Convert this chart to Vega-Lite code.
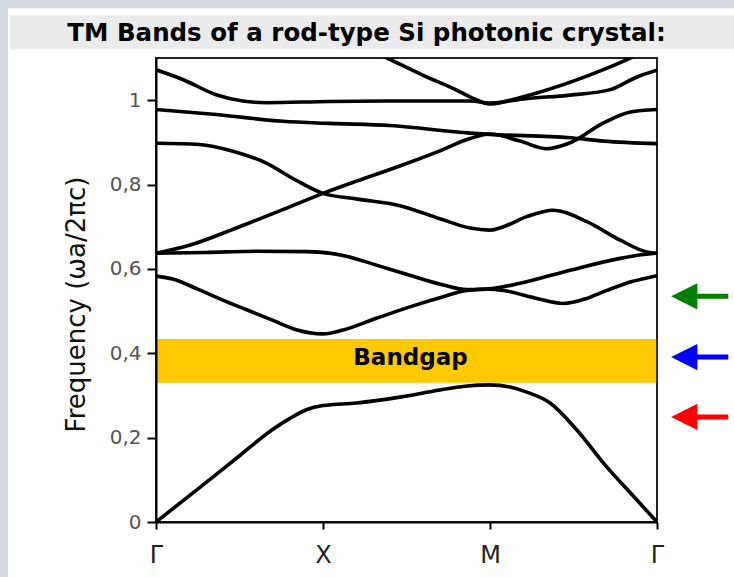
{
  "$schema": "https://vega.github.io/schema/vega-lite/v6.json",
  "width": 501,
  "height": 464,
  "autosize": {"type": "none"},
  "padding": {"left": 156, "top": 58, "right": 77, "bottom": 55},
  "background": "white",
  "config": {
    "font": "DejaVu Sans",
    "view": {"stroke": "#222", "strokeWidth": 2}
  },
  "datasets": {
    "bands": [
      {"band": "1", "k": 0.0, "f": 0.0}, {"band": "1", "k": 0.25, "f": 0.078}, {"band": "1", "k": 0.5, "f": 0.157}, {"band": "1", "k": 0.7, "f": 0.22}, {"band": "1", "k": 0.8, "f": 0.245}, {"band": "1", "k": 0.9, "f": 0.266}, {"band": "1", "k": 1.0, "f": 0.276}, {"band": "1", "k": 1.2, "f": 0.282}, {"band": "1", "k": 1.46, "f": 0.296}, {"band": "1", "k": 1.7, "f": 0.313}, {"band": "1", "k": 1.85, "f": 0.322}, {"band": "1", "k": 2.0, "f": 0.325}, {"band": "1", "k": 2.12, "f": 0.32}, {"band": "1", "k": 2.22, "f": 0.308}, {"band": "1", "k": 2.36, "f": 0.282}, {"band": "1", "k": 2.52, "f": 0.218}, {"band": "1", "k": 2.7, "f": 0.13}, {"band": "1", "k": 2.85, "f": 0.065}, {"band": "1", "k": 3.0, "f": 0.0},
      {"band": "2", "k": 0.0, "f": 0.583}, {"band": "2", "k": 0.1, "f": 0.576}, {"band": "2", "k": 0.25, "f": 0.552}, {"band": "2", "k": 0.4, "f": 0.526}, {"band": "2", "k": 0.55, "f": 0.502}, {"band": "2", "k": 0.7, "f": 0.478}, {"band": "2", "k": 0.84, "f": 0.456}, {"band": "2", "k": 1.0, "f": 0.446}, {"band": "2", "k": 1.12, "f": 0.455}, {"band": "2", "k": 1.32, "f": 0.483}, {"band": "2", "k": 1.52, "f": 0.51}, {"band": "2", "k": 1.72, "f": 0.534}, {"band": "2", "k": 1.86, "f": 0.549}, {"band": "2", "k": 2.0, "f": 0.552}, {"band": "2", "k": 2.08, "f": 0.549}, {"band": "2", "k": 2.28, "f": 0.53}, {"band": "2", "k": 2.44, "f": 0.518}, {"band": "2", "k": 2.58, "f": 0.53}, {"band": "2", "k": 2.7, "f": 0.549}, {"band": "2", "k": 2.85, "f": 0.57}, {"band": "2", "k": 3.0, "f": 0.584},
      {"band": "3", "k": 0.0, "f": 0.637}, {"band": "3", "k": 0.3, "f": 0.639}, {"band": "3", "k": 0.6, "f": 0.642}, {"band": "3", "k": 0.9, "f": 0.641}, {"band": "3", "k": 1.12, "f": 0.632}, {"band": "3", "k": 1.32, "f": 0.609}, {"band": "3", "k": 1.52, "f": 0.585}, {"band": "3", "k": 1.72, "f": 0.562}, {"band": "3", "k": 1.86, "f": 0.551}, {"band": "3", "k": 2.0, "f": 0.553}, {"band": "3", "k": 2.18, "f": 0.566}, {"band": "3", "k": 2.48, "f": 0.597}, {"band": "3", "k": 2.78, "f": 0.625}, {"band": "3", "k": 2.92, "f": 0.634}, {"band": "3", "k": 3.0, "f": 0.637},
      {"band": "4", "k": 0.0, "f": 0.637}, {"band": "4", "k": 0.2, "f": 0.656}, {"band": "4", "k": 0.5, "f": 0.7}, {"band": "4", "k": 0.8, "f": 0.747}, {"band": "4", "k": 1.0, "f": 0.779}, {"band": "4", "k": 1.2, "f": 0.808}, {"band": "4", "k": 1.46, "f": 0.844}, {"band": "4", "k": 1.7, "f": 0.88}, {"band": "4", "k": 1.88, "f": 0.909}, {"band": "4", "k": 2.0, "f": 0.92}, {"band": "4", "k": 2.18, "f": 0.903}, {"band": "4", "k": 2.34, "f": 0.885}, {"band": "4", "k": 2.48, "f": 0.899}, {"band": "4", "k": 2.68, "f": 0.946}, {"band": "4", "k": 2.84, "f": 0.972}, {"band": "4", "k": 3.0, "f": 0.978},
      {"band": "5", "k": 0.0, "f": 0.898}, {"band": "5", "k": 0.26, "f": 0.895}, {"band": "5", "k": 0.46, "f": 0.879}, {"band": "5", "k": 0.66, "f": 0.851}, {"band": "5", "k": 0.83, "f": 0.812}, {"band": "5", "k": 1.0, "f": 0.779}, {"band": "5", "k": 1.2, "f": 0.766}, {"band": "5", "k": 1.46, "f": 0.75}, {"band": "5", "k": 1.7, "f": 0.719}, {"band": "5", "k": 1.88, "f": 0.697}, {"band": "5", "k": 2.0, "f": 0.692}, {"band": "5", "k": 2.08, "f": 0.7}, {"band": "5", "k": 2.22, "f": 0.724}, {"band": "5", "k": 2.38, "f": 0.739}, {"band": "5", "k": 2.58, "f": 0.712}, {"band": "5", "k": 2.78, "f": 0.668}, {"band": "5", "k": 2.94, "f": 0.64}, {"band": "5", "k": 3.0, "f": 0.637},
      {"band": "6", "k": 0.0, "f": 0.978}, {"band": "6", "k": 0.36, "f": 0.966}, {"band": "6", "k": 0.76, "f": 0.95}, {"band": "6", "k": 1.04, "f": 0.945}, {"band": "6", "k": 1.4, "f": 0.94}, {"band": "6", "k": 1.88, "f": 0.922}, {"band": "6", "k": 2.0, "f": 0.919}, {"band": "6", "k": 2.48, "f": 0.911}, {"band": "6", "k": 2.68, "f": 0.903}, {"band": "6", "k": 3.0, "f": 0.897},
      {"band": "7", "k": 0.0, "f": 1.072}, {"band": "7", "k": 0.16, "f": 1.049}, {"band": "7", "k": 0.36, "f": 1.013}, {"band": "7", "k": 0.52, "f": 0.998}, {"band": "7", "k": 0.66, "f": 0.994}, {"band": "7", "k": 1.04, "f": 0.997}, {"band": "7", "k": 1.5, "f": 0.998}, {"band": "7", "k": 1.88, "f": 0.998}, {"band": "7", "k": 2.0, "f": 0.993}, {"band": "7", "k": 2.2, "f": 1.003}, {"band": "7", "k": 2.48, "f": 1.012}, {"band": "7", "k": 2.72, "f": 1.025}, {"band": "7", "k": 2.88, "f": 1.055}, {"band": "7", "k": 3.0, "f": 1.071},
      {"band": "8", "k": 1.3, "f": 1.116}, {"band": "8", "k": 1.4, "f": 1.097}, {"band": "8", "k": 1.6, "f": 1.059}, {"band": "8", "k": 1.8, "f": 1.024}, {"band": "8", "k": 1.88, "f": 1.008}, {"band": "8", "k": 2.0, "f": 0.991}, {"band": "8", "k": 2.12, "f": 1.0}, {"band": "8", "k": 2.28, "f": 1.017}, {"band": "8", "k": 2.58, "f": 1.057}, {"band": "8", "k": 2.82, "f": 1.096}, {"band": "8", "k": 2.92, "f": 1.115}
    ],
    "gap": [{"k0": 0, "k1": 2.995, "lo": 0.33, "hi": 0.434, "kmid": 1.5, "fmid": 0.382, "label": "Bandgap"}],
    "arrows": [
      {"f": 0.535, "c": "green"},
      {"f": 0.391, "c": "blue"},
      {"f": 0.249, "c": "red"}
    ],
    "frame": [
      {"part": "top strip", "a": -1.0, "b": 3.6, "lo": 1.218, "hi": 1.3, "fill": "strip"},
      {"part": "left strip", "a": -1.0, "b": -0.886, "lo": -0.2, "hi": 1.3, "fill": "strip"},
      {"part": "title band", "a": -0.874, "b": 3.6, "lo": 1.1209, "hi": 1.2014, "fill": "band"}
    ]
  },
  "layer": [
    {
      "data": {"name": "frame"},
      "mark": {"type": "rect"},
      "encoding": {
        "x": {"field": "a", "type": "quantitative", "scale": {"domain": [0, 3], "nice": false, "zero": false}},
        "x2": {"field": "b"},
        "y": {"field": "lo", "type": "quantitative", "scale": {"domain": [0, 1.1], "nice": false, "zero": false}},
        "y2": {"field": "hi"},
        "fill": {"field": "fill", "type": "nominal", "scale": {"domain": ["strip", "band"], "range": ["#d5d9e1", "#ebebeb"]}, "legend": null}
      }
    },
    {
      "data": {"values": [{"title": "TM Bands of a rod-type Si photonic crystal:"}]},
      "mark": {"type": "text", "font": "DejaVu Sans", "fontSize": 24.5, "fontWeight": "bold", "color": "#000", "align": "center", "baseline": "alphabetic"},
      "encoding": {
        "x": {"datum": 1.2605, "type": "quantitative"},
        "y": {"datum": 1.1398, "type": "quantitative"},
        "text": {"field": "title"}
      }
    },
    {
      "data": {"name": "gap"},
      "mark": {"type": "rect", "fill": "#ffc900"},
      "encoding": {
        "x": {"field": "k0", "type": "quantitative"},
        "x2": {"field": "k1"},
        "y": {"field": "lo", "type": "quantitative"},
        "y2": {"field": "hi"}
      }
    },
    {
      "data": {"name": "gap"},
      "mark": {"type": "text", "font": "DejaVu Sans", "fontSize": 23, "fontWeight": "bold", "color": "#000", "align": "center", "baseline": "middle", "dx": 4, "dy": -3},
      "encoding": {
        "x": {"field": "kmid", "type": "quantitative"},
        "y": {"field": "fmid", "type": "quantitative"},
        "text": {"field": "label"}
      }
    },
    {
      "data": {"name": "bands"},
      "mark": {"type": "line", "interpolate": "monotone", "color": "#000", "strokeWidth": 3.6, "clip": true},
      "encoding": {
        "x": {
          "field": "k", "type": "quantitative",
          "scale": {"domain": [0, 3], "nice": false, "zero": false},
          "axis": {
            "values": [0, 1, 2, 3],
            "labelExpr": "['Γ','X','M','Γ'][datum.value]",
            "title": null, "grid": false, "zindex": 1,
            "domainColor": "#000", "domainWidth": 2,
            "tickColor": "#000", "tickWidth": 2, "tickSize": 7,
            "labelFont": "DejaVu Sans", "labelFontSize": 24, "labelColor": "#222",
            "labelPadding": 14, "labelFlush": false, "labelOverlap": false, "labelBound": false
          }
        },
        "y": {
          "field": "f", "type": "quantitative",
          "scale": {"domain": [0, 1.1], "nice": false, "zero": false},
          "axis": {
            "values": [0, 0.2, 0.4, 0.6, 0.8, 1.0],
            "labelExpr": "replace(format(datum.value, '~g'), '.', ',')",
            "title": "Frequency (ωa/2πc)", "titleFont": "DejaVu Sans", "titleFontSize": 26, "titleFontWeight": "normal", "titleColor": "#111", "titlePadding": 20, "titleY": 246,
            "grid": false, "zindex": 1,
            "domainColor": "#000", "domainWidth": 2,
            "tickColor": "#000", "tickWidth": 2, "tickSize": 9,
            "labelFont": "DejaVu Sans", "labelFontSize": 20, "labelColor": "#555",
            "labelPadding": 6, "labelFlush": false, "labelOverlap": false, "labelBound": false
          }
        },
        "detail": {"field": "band", "type": "nominal"}
      }
    },
    {
      "data": {"name": "arrows"},
      "mark": {"type": "rule", "strokeWidth": 5, "clip": false},
      "encoding": {
        "x": {"datum": 3.22, "type": "quantitative"},
        "x2": {"datum": 3.427},
        "y": {"field": "f", "type": "quantitative"},
        "color": {"field": "c", "type": "nominal", "scale": {"domain": ["green", "blue", "red"], "range": ["#008000", "#0000ff", "#ff0000"]}, "legend": null}
      }
    },
    {
      "data": {"name": "arrows"},
      "mark": {"type": "point", "shape": "M-1,0L1,-1L1,1Z", "size": 690, "filled": true, "opacity": 1, "strokeWidth": 0, "clip": false},
      "encoding": {
        "x": {"datum": 3.163, "type": "quantitative"},
        "y": {"field": "f", "type": "quantitative"},
        "color": {"field": "c", "type": "nominal", "scale": {"domain": ["green", "blue", "red"], "range": ["#008000", "#0000ff", "#ff0000"]}, "legend": null}
      }
    }
  ]
}
